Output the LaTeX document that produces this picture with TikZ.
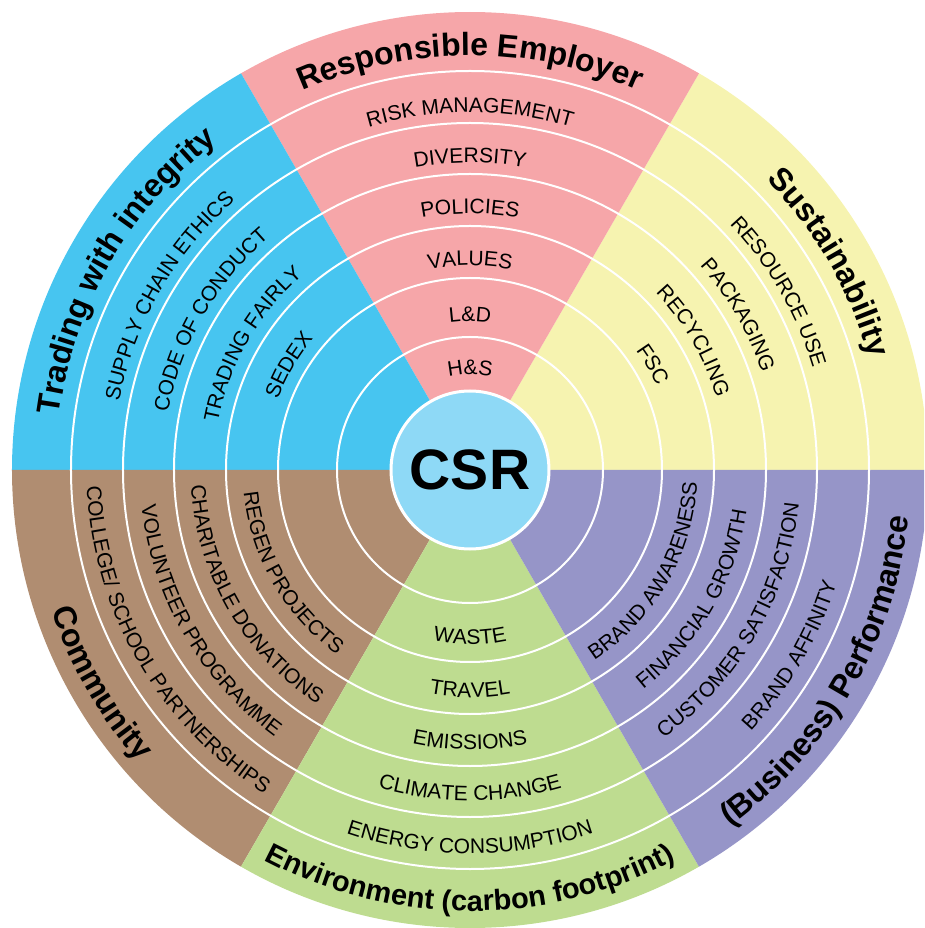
\documentclass[tikz,border=0pt]{standalone}
\usepackage{fontspec}
\setmainfont{Liberation Sans}
\usetikzlibrary{decorations.text}

\definecolor{employerpink}{RGB}{246,166,169}
\definecolor{sustainyellow}{RGB}{246,243,176}
\definecolor{tradingblue}{RGB}{71,197,240}
\definecolor{communitybrown}{RGB}{176,141,113}
\definecolor{environgreen}{RGB}{190,220,144}
\definecolor{performpurple}{RGB}{150,149,200}
\definecolor{csrblue}{RGB}{142,217,246}

\newcommand{\itemfont}{\fontsize{21}{21}\selectfont}
\newcommand{\headfont}{\fontsize{32}{32}\selectfont\bfseries}
\newcommand{\longheadfont}{\fontsize{29}{29}\selectfont\bfseries}

\begin{document}
\begin{tikzpicture}
 [x=1pt, y=1pt,
  ring line/.style={draw=white, line width=2pt},
  item/.style={decorate, decoration={text along path, text align=center, text={|\itemfont|#1}}},
  head/.style={decorate, decoration={text along path, text align=center, text={|\headfont|#1}}},
  long head/.style={decorate, decoration={text along path, text align=center, text={|\longheadfont|#1}}},
  hub/.style={circle, fill=csrblue, draw=white, line width=3pt, minimum size=158pt, inner sep=0pt,
    font=\fontsize{57}{57}\selectfont\bfseries}]

\useasboundingbox (-470,-458) rectangle (454,470);
\clip (-470,-458) rectangle (454,470);

% the six sectors
\foreach \a/\c in {0/sustainyellow, 60/employerpink, 120/tradingblue,
                   180/communitybrown, 240/environgreen, 300/performpurple}
  \fill[\c] (0,0) -- (\a:458) arc[start angle=\a, end angle=\a+60, radius=458] -- cycle;

\foreach \r in {133,192,244,296,347,399}
  \draw[ring line] (0,0) circle[radius=\r];

\node[hub] (csr) at (0,0) {CSR};

% upper half, read clockwise
\path[item=H{\&}S] (150:95.5) arc[start angle=150, end angle=30, radius=95.5];
\path[item=L{\&}D] (150:148.5) arc[start angle=150, end angle=30, radius=148.5];
\path[item=VALUES] (150:204.5) arc[start angle=150, end angle=30, radius=204.5];
\path[item=POLICIES] (150:256.5) arc[start angle=150, end angle=30, radius=256.5];
\path[item=DIVERSITY] (150:307.5) arc[start angle=150, end angle=30, radius=307.5];
\path[item=RISK MANAGEMENT] (150:357.5) arc[start angle=150, end angle=30, radius=357.5];
\path[head=Responsible Employer] (150:414.5) arc[start angle=150, end angle=30, radius=414.5];

\path[item=SEDEX] (210:204.5) arc[start angle=210, end angle=90, radius=204.5];
\path[item=TRADING FAIRLY] (210:256.5) arc[start angle=210, end angle=90, radius=256.5];
\path[item=CODE OF CONDUCT] (210:307.5) arc[start angle=210, end angle=90, radius=307.5];
\path[item=SUPPLY CHAIN ETHICS] (210:357.5) arc[start angle=210, end angle=90, radius=357.5];
\path[head=Trading with integrity] (210:414.5) arc[start angle=210, end angle=90, radius=414.5];

\path[item=FSC] (90:204.5) arc[start angle=90, end angle=-30, radius=204.5];
\path[item=RECYCLING] (90:256.5) arc[start angle=90, end angle=-30, radius=256.5];
\path[item=PACKAGING] (90:307.5) arc[start angle=90, end angle=-30, radius=307.5];
\path[item=RESOURCE USE] (90:357.5) arc[start angle=90, end angle=-30, radius=357.5];
\path[head=Sustainability] (90:414.5) arc[start angle=90, end angle=-30, radius=414.5];

% lower half, read anticlockwise
\path[item=WASTE] (210:174.5) arc[start angle=210, end angle=330, radius=174.5];
\path[item=TRAVEL] (210:227.5) arc[start angle=210, end angle=330, radius=227.5];
\path[item=EMISSIONS] (210:279.5) arc[start angle=210, end angle=330, radius=279.5];
\path[item=CLIMATE CHANGE] (210:330.5) arc[start angle=210, end angle=330, radius=330.5];
\path[item=ENERGY CONSUMPTION] (210:383.5) arc[start angle=210, end angle=330, radius=383.5];
\path[long head={Environment (carbon footprint{)}}] (210:441) arc[start angle=210, end angle=330, radius=441];

\path[item=REGEN PROJECTS] (150:227.5) arc[start angle=150, end angle=270, radius=227.5];
\path[item=CHARITABLE DONATIONS] (150:279.5) arc[start angle=150, end angle=270, radius=279.5];
\path[item=VOLUNTEER PROGRAMME] (150:330.5) arc[start angle=150, end angle=270, radius=330.5];
\path[item=COLLEGE/ SCHOOL PARTNERSHIPS] (150:383.5) arc[start angle=150, end angle=270, radius=383.5];
\path[head=Community] (150:441.5) arc[start angle=150, end angle=270, radius=441.5];

\path[item=BRAND AWARENESS] (270:227.5) arc[start angle=270, end angle=390, radius=227.5];
\path[item=FINANCIAL GROWTH] (270:279.5) arc[start angle=270, end angle=390, radius=279.5];
\path[item=CUSTOMER SATISFACTION] (270:330.5) arc[start angle=270, end angle=390, radius=330.5];
\path[item=BRAND AFFINITY] (270:383.5) arc[start angle=270, end angle=390, radius=383.5];
\path[head=(Business) Performance] (270:441.5) arc[start angle=270, end angle=390, radius=441.5];

\end{tikzpicture}
\end{document}
